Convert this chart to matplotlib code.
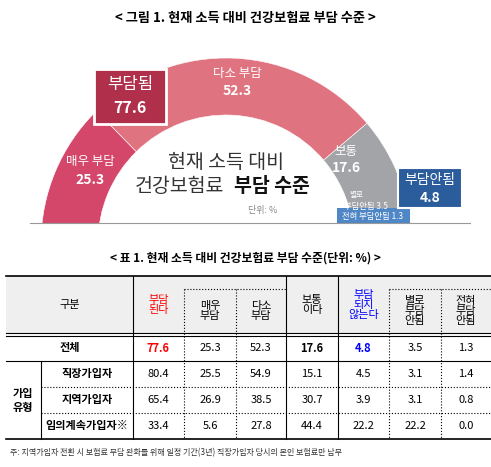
import matplotlib
matplotlib.use("Agg")
import matplotlib.pyplot as plt
from matplotlib.patches import Wedge, Rectangle

plt.rcParams['font.family'] = ['Noto Sans CJK KR', 'DejaVu Sans']

# donut data
seg_labels = ['매우 부담', '다소 부담', '보통', '별로 부담안됨', '전혀 부담안됨']
seg_values = [25.3, 52.3, 17.6, 3.5, 1.3]
seg_colors = ['#d4466a', '#df7480', '#a3a4a8', '#4f86c6', '#86abdb']
burden_total = 77.6
no_burden_total = 4.8

# table data
col_headers = ['부담\n된다', '매우\n부담', '다소\n부담', '보통\n이다', '부담\n되지\n않는다', '별로\n부담\n안됨', '전혀\n부담\n안됨']
row_names = ['전체', '직장가입자', '지역가입자', '임의계속가입자※']
table_values = [
    [77.6, 25.3, 52.3, 17.6, 4.8, 3.5, 1.3],
    [80.4, 25.5, 54.9, 15.1, 4.5, 3.1, 1.4],
    [65.4, 26.9, 38.5, 30.7, 3.9, 3.1, 0.8],
    [33.4, 5.6, 27.8, 44.4, 22.2, 22.2, 0.0],
]

fig = plt.figure(figsize=(4.91, 4.67), dpi=100)
ax = fig.add_axes([0, 0, 1, 1])
ax.set_xlim(0, 491)
ax.set_ylim(467, 0)
ax.axis('off')

ax.text(245, 18, '< 그림 1. 현재 소득 대비 건강보험료 부담 수준 >', ha='center', va='center',
        fontsize=9.5, fontweight='bold')

# half donut (centre sits a bit below the base line, so clip at the base)
cx, cy, R, r = 226, 243, 185, 128
base = 223
clip = Rectangle((0, 0), 491, base, transform=ax.transData)
start = 180
for v, c in zip(seg_values, seg_colors):
    span = v / sum(seg_values) * 180
    w = Wedge((cx, cy), R, start, start + span, width=R - r, facecolor=c, edgecolor='white', lw=0.4)
    ax.add_patch(w)
    w.set_clip_path(clip)
    start += span
ax.plot([30, 470], [base, base], color='#999999', lw=0.8)

ax.text(90, 162, '매우 부담', ha='center', va='center', color='white', fontsize=9, style='italic')
ax.text(90, 180, '25.3', ha='center', va='center', color='white', fontsize=10, fontweight='bold')
ax.text(237, 73, '다소 부담', ha='center', va='center', color='white', fontsize=9, style='italic')
ax.text(237, 91, '52.3', ha='center', va='center', color='white', fontsize=10, fontweight='bold')
ax.text(346, 151, '보통', ha='center', va='center', color='white', fontsize=9, style='italic')
ax.text(346, 168, '17.6', ha='center', va='center', color='white', fontsize=10, fontweight='bold')

ax.add_patch(Rectangle((94, 69), 72, 55, facecolor='#b0304c', edgecolor='white', lw=2, zorder=5))
ax.text(130, 85, '부담됨', ha='center', va='center', color='white', fontsize=12, zorder=6)
ax.text(130, 108, f'{burden_total}', ha='center', va='center', color='white', fontsize=11.5, fontweight='bold', zorder=6)

ax.add_patch(Rectangle((398, 168), 64, 40, facecolor='#2b5c9b', edgecolor='white', lw=1.5, zorder=5))
ax.text(430, 180, '부담안됨', ha='center', va='center', color='white', fontsize=10, zorder=6)
ax.text(430, 198, f'{no_burden_total}', ha='center', va='center', color='white', fontsize=10, fontweight='bold', zorder=6)

ax.add_patch(Rectangle((337, 208), 73, 15, facecolor='#4f86c6', edgecolor='none', zorder=4))
ax.text(356, 195, '별로', ha='center', va='center', color='white', fontsize=5.5, style='italic', zorder=6)
ax.text(366, 206, f'부담안됨 {seg_values[3]}', ha='center', va='center', color='white', fontsize=6, style='italic', zorder=6)
ax.text(373, 217, f'전혀 부담안됨 {seg_values[4]}', ha='center', va='center', color='white', fontsize=6, style='italic', zorder=6)

ax.text(226, 162, '현재 소득 대비', ha='center', va='center', fontsize=14, color='#333333')
ax.text(224, 187, '건강보험료', ha='right', va='center', fontsize=14, color='#333333')
ax.text(234, 187, '부담 수준', ha='left', va='center', fontsize=14, fontweight='bold', color='#111111')
ax.text(263, 210, '단위: %', ha='center', va='center', fontsize=6.5, color='#888888')

# table
ax.text(245, 258, '< 표 1. 현재 소득 대비 건강보험료 부담 수준(단위: %) >', ha='center', va='center',
        fontsize=8.5, fontweight='bold')
xs = [6, 133, 184, 236, 286, 338, 389, 441, 491]
y_top, y_head, y_all = 276, 333, 361
row_ys = [361, 387, 413, 439]
ax.add_patch(Rectangle((xs[0], y_top), xs[-1] - xs[0], y_head - y_top, facecolor='#efefef', edgecolor='none'))
ax.plot([xs[0], xs[-1]], [y_top, y_top], color='black', lw=1.2)
ax.plot([xs[0], xs[-1]], [y_head, y_head], color='black', lw=0.8)
ax.plot([xs[0], xs[-1]], [y_head + 3, y_head + 3], color='black', lw=0.8)
ax.plot([xs[0], xs[-1]], [y_all, y_all], color='black', lw=0.8)
ax.plot([xs[0], xs[-1]], [439, 439], color='black', lw=1.2)
for y in [387, 413]:
    ax.plot([41, xs[-1]], [y, y], color='black', lw=0.8, ls=':')
ax.plot([184, 286], [289, 289], color='black', lw=0.8, ls=':')
ax.plot([389, 491], [289, 289], color='black', lw=0.8, ls=':')
for x in xs[1:-1]:
    if x in (184, 236, 389, 441):
        ax.plot([x, x], [289, 439], color='black', lw=0.8, ls=':')
    else:
        ax.plot([x, x], [y_top, 439], color='black', lw=0.8)
ax.plot([41, 41], [y_all, 439], color='black', lw=0.8)

ax.text(70, 305, '구분', ha='center', va='center', fontsize=8)
head_colors = ['red', 'black', 'black', 'black', 'blue', 'black', 'black']
head_y = [305, 311, 311, 305, 305, 311, 311]
for j, (h, c) in enumerate(zip(col_headers, head_colors)):
    ax.text((xs[j + 1] + xs[j + 2]) / 2, head_y[j], h, ha='center', va='center', fontsize=8,
            color=c, linespacing=1.0)

ax.text(70, (y_head + y_all) / 2 + 1, row_names[0], ha='center', va='center', fontsize=8, fontweight='bold')
for i in range(1, 4):
    ax.text(87, (row_ys[i - 1] + row_ys[i]) / 2, row_names[i], ha='center', va='center', fontsize=8, fontweight='bold')
ax.text(23, 400, '가입\n유형', ha='center', va='center', fontsize=8, fontweight='bold', linespacing=1.1)

for i, row in enumerate(table_values):
    yc = (y_head + y_all) / 2 + 1 if i == 0 else (row_ys[i - 1] + row_ys[i]) / 2
    for j, v in enumerate(row):
        color = 'black'
        weight = 'normal'
        if i == 0 and j in (0, 3, 4):
            weight = 'bold'
        if j == 0 and i == 0:
            color = 'red'
        if j == 4 and i == 0:
            color = 'blue'
        ax.text((xs[j + 1] + xs[j + 2]) / 2, yc, f'{v:.1f}', ha='center', va='center', fontsize=8,
                color=color, fontweight=weight)

ax.text(10, 453, '주: 지역가입자 전환 시 보험료 부담 완화를 위해 일정 기간(3년) 직장가입자 당시의 본인 보험료만 납부',
        ha='left', va='center', fontsize=5.8, color='#333333')

fig.savefig('out.png', dpi=100)
